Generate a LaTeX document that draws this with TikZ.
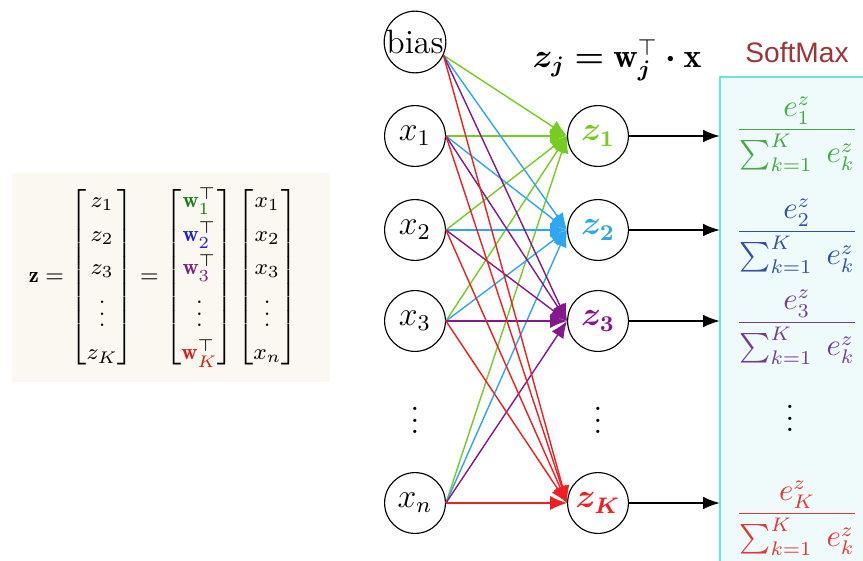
\documentclass[tikz,border=0pt]{standalone}
\usepackage{amssymb}
\usepackage{amsmath}
\usepackage{bm}
\usepackage{fontspec}
\newfontfamily\labelsans{Liberation Sans}
\usepackage{tikz}
\usetikzlibrary{arrows.meta}
\definecolor{cgreen}{HTML}{77CC22}\definecolor{cblue}{HTML}{2FA6EE}
\definecolor{cpurple}{HTML}{86188E}\definecolor{cred}{HTML}{EE2020}
\definecolor{fgreen}{HTML}{44A844}\definecolor{fblue}{HTML}{3050A8}
\definecolor{fpurple}{HTML}{733D92}\definecolor{fred}{HTML}{E03838}
\definecolor{wgreen}{HTML}{1F7A1F}\definecolor{wblue}{HTML}{2323CC}
\definecolor{wpurple}{HTML}{7A1F7A}\definecolor{wred}{HTML}{E01818}
\definecolor{matbg}{HTML}{FAF8F1}\definecolor{smbg}{HTML}{EFFBFB}
\definecolor{smedge}{HTML}{6FE3D6}\definecolor{smred}{HTML}{9E3535}

\begin{document}
\begin{tikzpicture}[x=0.0125cm, y=-0.0125cm,
    neuron/.style={draw, circle, minimum size=0.76cm, inner sep=0pt, font=\large},
    wire/.style={line width=0.5pt, -{Latex[length=6pt,width=5pt]}},
    frac/.style={font=\fontsize{10.5}{12.6}\selectfont}]
    \clip (0,0) rectangle (863,560); \fill[white] (0,0) rectangle (863,560);
    % matrix form on the left
    \fill[matbg] (12,173) rectangle (330,382);
    \node (eq) at (163,277) {\fontsize{8}{9.5}\selectfont\renewcommand{\arraystretch}{1.25}\setlength{\arraycolsep}{6.5pt}%
      $\mathbf{z}=\begin{bmatrix} z_1\\ z_2\\ z_3\\ \vdots\\ z_K \end{bmatrix}
      =\begin{bmatrix} {\color{wgreen}\mathbf{w}}^{\top}_{\color{wgreen}1}\\
        {\color{wblue}\mathbf{w}}^{\top}_{\color{wblue}2}\\
        {\color{wpurple}\mathbf{w}}^{\top}_{\color{wpurple}3}\\ \vdots\\
        {\color{wred}\mathbf{w}}^{\top}_{\color{wred}K} \end{bmatrix}
      \begin{bmatrix} x_1\\ x_2\\ x_3\\ \vdots\\ x_n \end{bmatrix}$};
    % softmax panel
    \filldraw[draw=smedge, fill=smbg, line width=0.7pt] (720,77) rectangle (900,600);
    \node[text=smred] (smtitle) at (797,52) {\labelsans SoftMax};
    \node (formula) at (617,60) {\large $\bm{z_j} \mathrel{\bm{=}} \mathbf{w}_{\bm{j}}^{\top} \mathbin{\bm{\cdot}} \mathbf{x}$};
    % input and output neurons
    \node[neuron] (bias) at (415,42) {bias};
    \node[neuron] (x1) at (415,136) {$x_1$}; \node[neuron] (x2) at (415,230) {$x_2$};
    \node[neuron] (x3) at (415,321) {$x_3$}; \node[neuron] (xn) at (415,503) {$x_n$};
    \node[font=\large] (xdots) at (415,412) {$\vdots$};
    \node[neuron, text=cgreen] (z1) at (598,136) {$\bm{z_1}$};
    \node[neuron, text=cblue] (z2) at (598,230) {$\bm{z_2}$};
    \node[neuron, text=cpurple] (z3) at (598,321) {$\bm{z_3}$};
    \node[neuron, text=cred] (zK) at (598,503) {$\bm{z_K}$};
    \node[font=\large] (zdots) at (598,412) {$\vdots$};
    % weights
    \draw[wire, cgreen] (bias.-25) -- (z1.west); \draw[wire, cgreen] (x1.east) -- (z1.west);
    \draw[wire, cgreen] (x2.east) -- (z1.west); \draw[wire, cgreen] (x3.east) -- (z1.west);
    \draw[wire, cgreen] (xn.east) -- (z1.west);
    \draw[wire, cblue] (bias.-25) -- (z2.west); \draw[wire, cblue] (x1.east) -- (z2.west);
    \draw[wire, cblue] (x2.east) -- (z2.west); \draw[wire, cblue] (x3.east) -- (z2.west);
    \draw[wire, cblue] (xn.east) -- (z2.west);
    \draw[wire, cpurple] (bias.-25) -- (z3.west); \draw[wire, cpurple] (x1.east) -- (z3.west);
    \draw[wire, cpurple] (x2.east) -- (z3.west); \draw[wire, cpurple] (x3.east) -- (z3.west);
    \draw[wire, cpurple] (xn.east) -- (z3.west);
    \draw[wire, cred] (bias.-25) -- (zK.west); \draw[wire, cred] (x1.east) -- (zK.west);
    \draw[wire, cred] (x2.east) -- (zK.west); \draw[wire, cred] (x3.east) -- (zK.west);
    \draw[wire, cred] (xn.east) -- (zK.west);
    % softmax outputs
    \coordinate (s1) at (720,136); \coordinate (s2) at (720,230);
    \coordinate (s3) at (720,321); \coordinate (sK) at (720,503);
    \draw[line width=0.7pt, -{Latex[length=6pt,width=4.5pt]}] (z1.east) -- (s1);
    \draw[line width=0.7pt, -{Latex[length=6pt,width=4.5pt]}] (z2.east) -- (s2);
    \draw[line width=0.7pt, -{Latex[length=6pt,width=4.5pt]}] (z3.east) -- (s3);
    \draw[line width=0.7pt, -{Latex[length=6pt,width=4.5pt]}] (zK.east) -- (sK);
    \node[frac, text=fgreen] (p1) at (797,134) {$\dfrac{e^{z}_{1}}{\sum\nolimits_{k=1}^{K}\; e^{z}_{k}}$};
    \node[frac, text=fblue] (p2) at (797,236) {$\dfrac{e^{z}_{2}}{\sum\nolimits_{k=1}^{K}\; e^{z}_{k}}$};
    \node[frac, text=fpurple] (p3) at (797,327) {$\dfrac{e^{z}_{3}}{\sum\nolimits_{k=1}^{K}\; e^{z}_{k}}$};
    \node[font=\large] (pdots) at (790,410) {$\vdots$};
    \node[frac, text=fred] (pK) at (797,518) {$\dfrac{e^{z}_{K}}{\sum\nolimits_{k=1}^{K}\; e^{z}_{k}}$};
\end{tikzpicture}
\end{document}
